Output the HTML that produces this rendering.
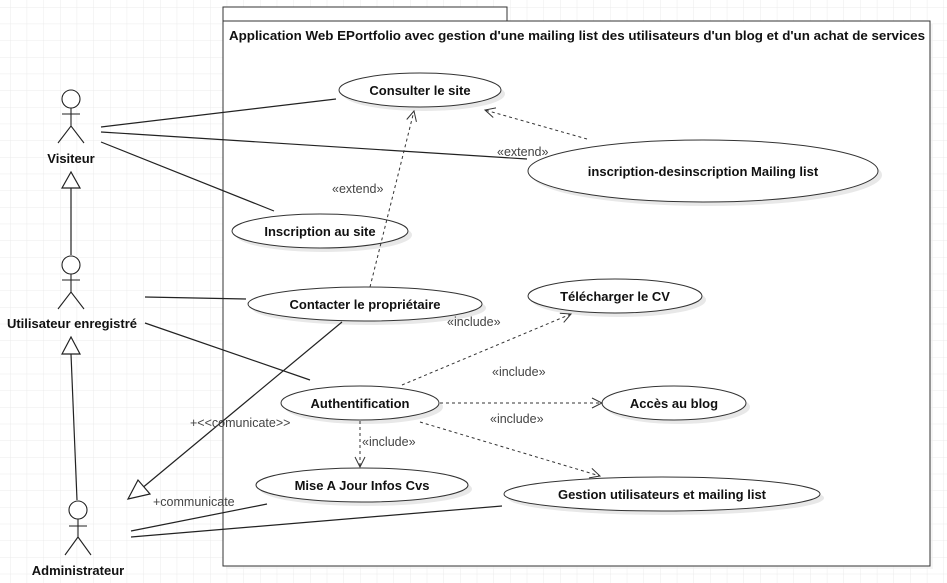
<!DOCTYPE html>
<html><head><meta charset="utf-8"><style>
html,body{margin:0;padding:0;background:#fff}
svg{display:block}
text{font-family:"Liberation Sans",sans-serif}
.b{font-weight:bold;font-size:13px;fill:#111}
.s{font-size:12.5px;fill:#444}
</style></head><body>
<svg width="947" height="583" viewBox="0 0 947 583" xmlns="http://www.w3.org/2000/svg">
<defs>
<pattern id="g" width="16.67" height="16.67" patternUnits="userSpaceOnUse" x="10" y="7">
<path d="M0 0H16.67M0 0V16.67" stroke="#ebebeb" stroke-width="1" fill="none"/>
</pattern>
<marker id="oa" markerWidth="12" markerHeight="12" refX="11" refY="6" orient="auto" markerUnits="userSpaceOnUse">
<path d="M1 1L11 6L1 11" fill="none" stroke="#333" stroke-width="1"/>
</marker>
</defs>
<rect width="947" height="583" fill="url(#g)"/>
<rect x="226" y="24" width="707" height="545" fill="#eee" opacity="0.6"/>
<rect x="223" y="7" width="284" height="14" fill="#fff" stroke="#333"/>
<rect x="223" y="21" width="707" height="545" fill="#fff" stroke="#333"/>
<text x="229" y="40" class="b" textLength="696" lengthAdjust="spacingAndGlyphs">Application Web EPortfolio avec gestion d'une mailing list des utilisateurs d'un blog et d'un achat de services</text>

<g fill="#e8e8e8">
<ellipse cx="424" cy="94" rx="81" ry="17"/>
<ellipse cx="707" cy="175" rx="175" ry="31"/>
<ellipse cx="324" cy="235" rx="88" ry="17"/>
<ellipse cx="369" cy="308" rx="117" ry="17"/>
<ellipse cx="619" cy="300" rx="87" ry="17"/>
<ellipse cx="364" cy="407" rx="79" ry="17"/>
<ellipse cx="678" cy="407" rx="72" ry="17"/>
<ellipse cx="366" cy="489" rx="106" ry="17"/>
<ellipse cx="666" cy="498" rx="158" ry="17"/>
</g>
<g fill="#fff" stroke="#333" stroke-width="1">
<ellipse cx="420" cy="90" rx="81" ry="17"/>
<ellipse cx="703" cy="171" rx="175" ry="31"/>
<ellipse cx="320" cy="231" rx="88" ry="17"/>
<ellipse cx="365" cy="304" rx="117" ry="17"/>
<ellipse cx="615" cy="296" rx="87" ry="17"/>
<ellipse cx="360" cy="403" rx="79" ry="17"/>
<ellipse cx="674" cy="403" rx="72" ry="17"/>
<ellipse cx="362" cy="485" rx="106" ry="17"/>
<ellipse cx="662" cy="494" rx="158" ry="17"/>
</g>
<g class="b" text-anchor="middle">
<text x="420" y="95">Consulter le site</text>
<text x="703" y="176">inscription-desinscription Mailing list</text>
<text x="320" y="236">Inscription au site</text>
<text x="365" y="309">Contacter le propriétaire</text>
<text x="615" y="301">Télécharger le CV</text>
<text x="360" y="408">Authentification</text>
<text x="674" y="408">Accès au blog</text>
<text x="362" y="490">Mise A Jour Infos Cvs</text>
<text x="662" y="499">Gestion utilisateurs et mailing list</text>
</g>

<g stroke="#222" stroke-width="1.2" fill="none">
<path d="M101 127L336 99"/>
<path d="M101 132L527 159"/>
<path d="M101 142L274 211"/>
<path d="M145 297L246 299"/>
<path d="M145 323L310 380"/>
<path d="M342 322L135 494"/>
<path d="M131 531L267 504"/>
<path d="M131 537L502 506"/>
<path d="M71 255V188"/>
<path d="M77 500L71 354"/>
</g>
<g fill="#fff" stroke="#222" stroke-width="1.2">
<path d="M71 172L62 188H80Z"/>
<path d="M71 337L62 354H80Z"/>
<path d="M128 499L138 480L150 494Z"/>
</g>

<g stroke="#333" stroke-width="1" fill="none" stroke-dasharray="3,3" marker-end="url(#oa)">
<path d="M370 287L414 111"/>
<path d="M587 139L485 110"/>
<path d="M402 385L571 314"/>
<path d="M440 403L602 403"/>
<path d="M420 422L600 476"/>
<path d="M360 421L360 467"/>
</g>
<g class="s">
<text x="332" y="193">«extend»</text>
<text x="497" y="156">«extend»</text>
<text x="447" y="326">«include»</text>
<text x="492" y="376">«include»</text>
<text x="490" y="423">«include»</text>
<text x="362" y="446">«include»</text>
<text x="190" y="427">+&lt;&lt;comunicate&gt;&gt;</text>
<text x="153" y="506">+communicate</text>
</g>

<g stroke="#222" stroke-width="1.1" fill="#fff">
<circle cx="71" cy="99" r="9"/>
<path d="M71 108V126M62 114H80M58 143L71 126L84 143" fill="none"/>
<circle cx="71" cy="265" r="9"/>
<path d="M71 274V292M62 280H80M58 309L71 292L84 309" fill="none"/>
<circle cx="78" cy="510" r="9"/>
<path d="M78 519V537M69 526H87M65 555L78 537L91 555" fill="none"/>
</g>
<g class="b" text-anchor="middle">
<text x="71" y="163">Visiteur</text>
<text x="72" y="328">Utilisateur enregistré</text>
<text x="78" y="575">Administrateur</text>
</g>
</svg>
</body></html>
